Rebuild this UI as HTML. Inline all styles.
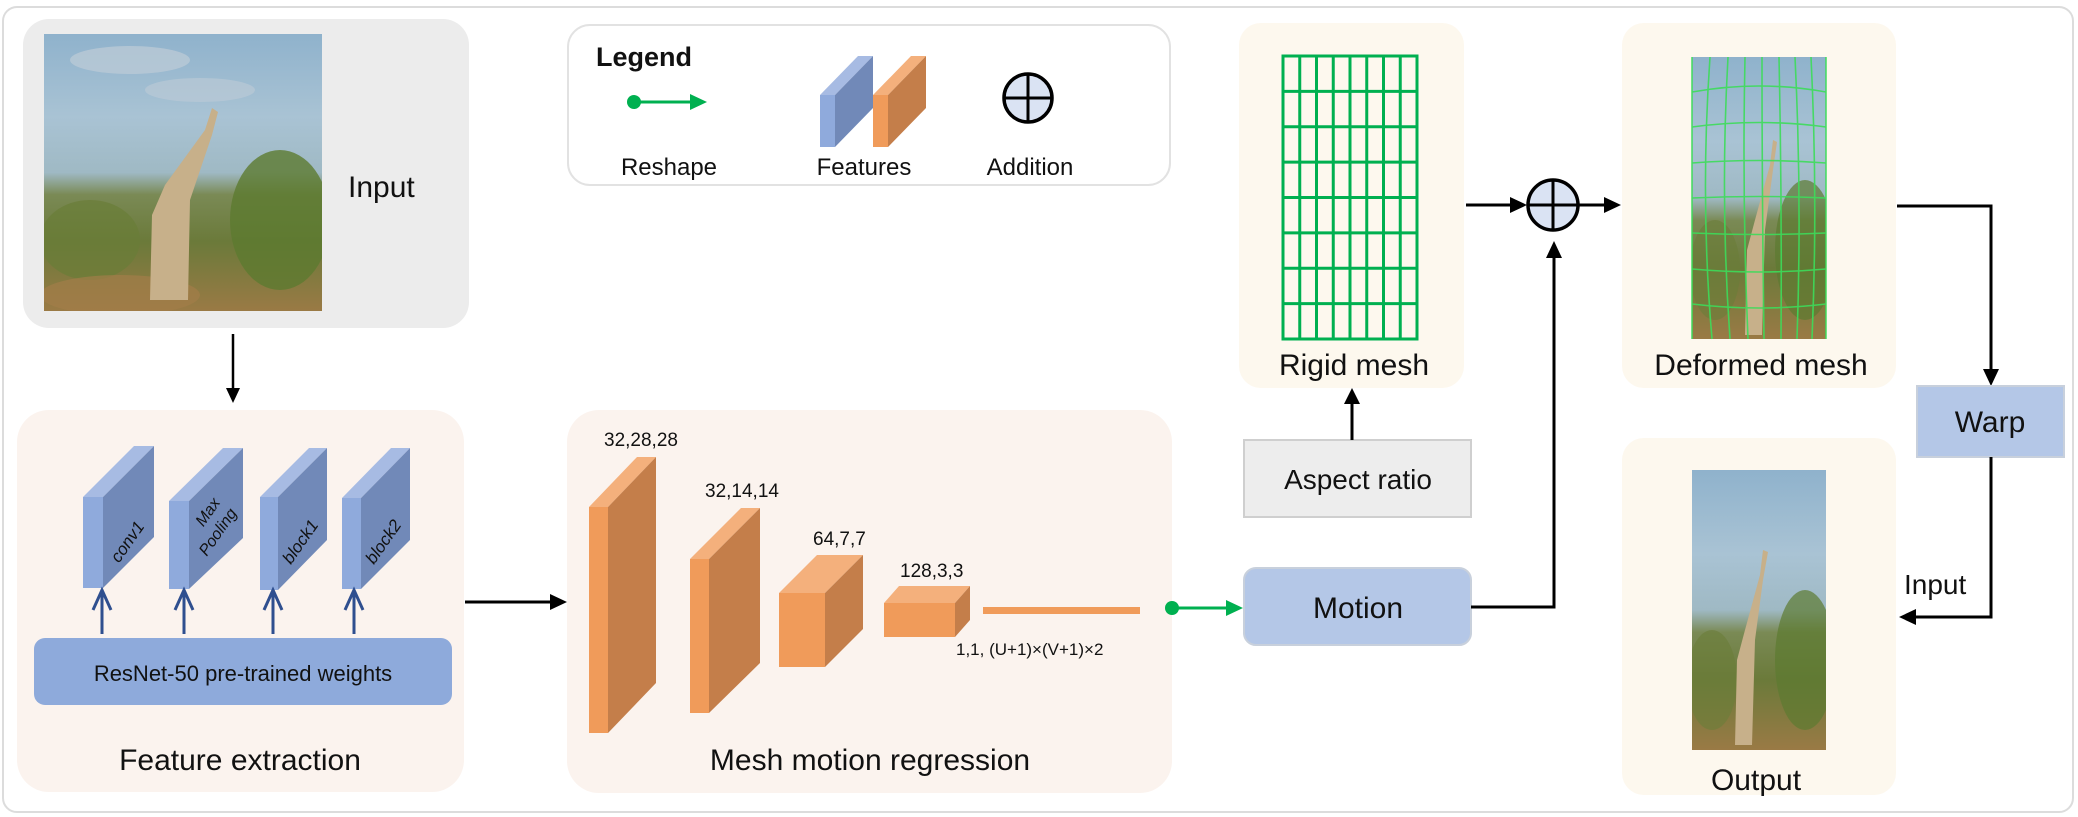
<!DOCTYPE html>
<html><head><meta charset="utf-8"><style>
html,body{margin:0;padding:0;background:#fff}
svg{display:block}
text{font-family:"Liberation Sans",sans-serif;fill:#111}
</style></head><body>
<svg width="2078" height="817" viewBox="0 0 2078 817" xmlns="http://www.w3.org/2000/svg">
<defs>
<linearGradient id="photo" x1="0" y1="0" x2="0" y2="1">
<stop offset="0" stop-color="#8fb2cc"/><stop offset="0.3" stop-color="#a9c3d4"/><stop offset="0.5" stop-color="#9fb9c4"/>
<stop offset="0.58" stop-color="#7a8a55"/><stop offset="0.75" stop-color="#6b7a3a"/><stop offset="1" stop-color="#9a7a45"/>
</linearGradient>
<clipPath id="c1"><rect x="44" y="34" width="278" height="277"/></clipPath>
<clipPath id="c2"><rect x="1692" y="57" width="134" height="282"/></clipPath>
<clipPath id="c3"><rect x="1692" y="470" width="134" height="280"/></clipPath>
</defs>
<rect x="3" y="7" width="2070" height="805" rx="14" fill="#fff" stroke="#dcdcdc" stroke-width="2"/>

<!-- Input box -->
<rect x="23" y="19" width="446" height="309" rx="26" fill="#ececec"/>
<g clip-path="url(#c1)">
<rect x="44" y="34" width="278" height="277" fill="url(#photo)"/>
<ellipse cx="130" cy="60" rx="60" ry="14" fill="#b9c9d6" opacity="0.8"/>
<ellipse cx="200" cy="90" rx="55" ry="12" fill="#b9c9d6" opacity="0.7"/>
<ellipse cx="280" cy="220" rx="50" ry="70" fill="#5d7a30" opacity="0.8"/>
<ellipse cx="90" cy="240" rx="50" ry="40" fill="#6a7d38" opacity="0.7"/>
<ellipse cx="120" cy="295" rx="80" ry="20" fill="#a27d48" opacity="0.7"/>
<path d="M150,300 L152,215 L165,185 L205,130 L212,108 L218,112 L212,135 L190,200 L188,300 Z" fill="#c7b08a"/>
</g>
<text x="348" y="197" font-size="30">Input</text>
<line x1="233" y1="334" x2="233" y2="390" stroke="#000" stroke-width="2.5"/>
<path d="M226,388 L240,388 L233,403 Z" fill="#000"/>

<!-- Legend -->
<rect x="568" y="25" width="602" height="160" rx="22" fill="#fff" stroke="#e2e2e2" stroke-width="2"/>
<text x="596" y="66" font-size="27" font-weight="bold">Legend</text>
<circle cx="634" cy="102" r="7" fill="#00b050"/>
<line x1="634" y1="102" x2="692" y2="102" stroke="#00b050" stroke-width="3"/>
<path d="M690,94 L707,102 L690,110 Z" fill="#00b050"/>
<text x="669" y="175" font-size="24" text-anchor="middle">Reshape</text>
<polygon points="820,95 835,95 873,56 858,56" fill="#a7bbe3"/>
<polygon points="835,95 873,56 873,108 835,147" fill="#7189b8"/>
<rect x="820" y="95" width="15" height="52" fill="#8faadc"/>
<polygon points="873,95 888,95 926,56 911,56" fill="#f4b07c"/>
<polygon points="888,95 926,56 926,108 888,147" fill="#c47e4a"/>
<rect x="873" y="95" width="15" height="52" fill="#f09b5a"/>
<text x="864" y="175" font-size="24" text-anchor="middle">Features</text>
<circle cx="1028" cy="98" r="24" fill="#dae3f3" stroke="#000" stroke-width="3.5"/>
<line x1="1004" y1="98" x2="1052" y2="98" stroke="#000" stroke-width="3"/>
<line x1="1028" y1="74" x2="1028" y2="122" stroke="#000" stroke-width="3"/>
<text x="1030" y="175" font-size="24" text-anchor="middle">Addition</text>

<!-- Feature extraction -->
<rect x="17" y="410" width="447" height="382" rx="32" fill="#fbf3ee"/>
<g>
<polygon points="83,497 103,497 154,446 134,446" fill="#a7bbe3"/>
<polygon points="103,497 154,446 154,537 103,588" fill="#7189b8"/>
<rect x="83" y="497" width="20" height="91" fill="#8faadc"/>
<text transform="translate(132,545) rotate(-55)" font-size="17" font-style="italic" fill="#222" text-anchor="middle">conv1</text>
<polygon points="169,501 189,501 243,448 223,448" fill="#a7bbe3"/>
<polygon points="189,501 243,448 243,538 189,589" fill="#7189b8"/>
<rect x="169" y="501" width="20" height="88" fill="#8faadc"/>
<text transform="translate(212,515) rotate(-55)" font-size="16" font-style="italic" fill="#222" text-anchor="middle">Max</text>
<text transform="translate(222,535) rotate(-55)" font-size="16" font-style="italic" fill="#222" text-anchor="middle">Pooling</text>
<polygon points="260,497 278,497 327,448 309,448" fill="#a7bbe3"/>
<polygon points="278,497 327,448 327,540 278,590" fill="#7189b8"/>
<rect x="260" y="497" width="18" height="93" fill="#8faadc"/>
<text transform="translate(305,545) rotate(-55)" font-size="17" font-style="italic" fill="#222" text-anchor="middle">block1</text>
<polygon points="342,498 361,498 410,448 391,448" fill="#a7bbe3"/>
<polygon points="361,498 410,448 410,540 361,589" fill="#7189b8"/>
<rect x="342" y="498" width="19" height="91" fill="#8faadc"/>
<text transform="translate(388,545) rotate(-55)" font-size="17" font-style="italic" fill="#222" text-anchor="middle">block2</text>
</g>
<g stroke="#2f4f8f" stroke-width="3" fill="none">
<path d="M102,634 V592 M93,610 L102,590 L111,610"/>
<path d="M184,634 V592 M175,610 L184,590 L193,610"/>
<path d="M273,634 V592 M264,610 L273,590 L282,610"/>
<path d="M354,634 V592 M345,610 L354,590 L363,610"/>
</g>
<rect x="34" y="638" width="418" height="67" rx="11" fill="#8eaadb"/>
<text x="243" y="681" font-size="22" text-anchor="middle">ResNet-50 pre-trained weights</text>
<text x="240" y="770" font-size="30" text-anchor="middle">Feature extraction</text>

<line x1="465" y1="602" x2="552" y2="602" stroke="#000" stroke-width="3"/>
<path d="M550,594 L567,602 L550,610 Z" fill="#000"/>

<!-- Mesh motion regression -->
<rect x="567" y="410" width="605" height="383" rx="32" fill="#fbf3ee"/>
<polygon points="589,507 608,507 656,457 637,457" fill="#f4b07c"/>
<polygon points="608,507 656,457 656,683 608,733" fill="#c47e4a"/>
<rect x="589" y="507" width="19" height="226" fill="#f09b5a"/>
<text x="604" y="446" font-size="19">32,28,28</text>
<polygon points="690,559 709,559 760,508 741,508" fill="#f4b07c"/>
<polygon points="709,559 760,508 760,663 709,713" fill="#c47e4a"/>
<rect x="690" y="559" width="19" height="154" fill="#f09b5a"/>
<text x="705" y="497" font-size="19">32,14,14</text>
<polygon points="779,593 825,593 863,555 817,555" fill="#f4b07c"/>
<polygon points="825,593 863,555 863,629 825,667" fill="#c47e4a"/>
<rect x="779" y="593" width="46" height="74" fill="#f09b5a"/>
<text x="813" y="545" font-size="19">64,7,7</text>
<polygon points="884,603 955,603 970,586 899,586" fill="#f4b07c"/>
<polygon points="955,603 970,586 970,620 955,637" fill="#c47e4a"/>
<rect x="884" y="603" width="71" height="34" fill="#f09b5a"/>
<text x="900" y="577" font-size="19">128,3,3</text>
<rect x="983" y="607" width="157" height="7" fill="#f09b5a"/>
<text x="956" y="655" font-size="17">1,1, (U+1)×(V+1)×2</text>
<text x="870" y="770" font-size="30" text-anchor="middle">Mesh motion regression</text>

<circle cx="1172" cy="608" r="7" fill="#00b050"/>
<line x1="1172" y1="608" x2="1228" y2="608" stroke="#00b050" stroke-width="3"/>
<path d="M1226,600 L1243,608 L1226,616 Z" fill="#00b050"/>

<!-- Rigid mesh -->
<rect x="1239" y="23" width="225" height="365" rx="22" fill="#fdf8ee"/>
<g stroke="#00b050" stroke-width="3" fill="none">
<rect x="1283" y="56" width="134" height="283"/>
<path d="M1299.75,56V339 M1316.5,56V339 M1333.25,56V339 M1350,56V339 M1366.75,56V339 M1383.5,56V339 M1400.25,56V339"/>
<path d="M1283,91.4H1417 M1283,126.75H1417 M1283,162.1H1417 M1283,197.5H1417 M1283,232.9H1417 M1283,268.25H1417 M1283,303.6H1417"/>
</g>
<text x="1354" y="375" font-size="30" text-anchor="middle">Rigid mesh</text>

<rect x="1244" y="440" width="227" height="77" fill="#ededed" stroke="#cfcfcf" stroke-width="2"/>
<text x="1358" y="489" font-size="28" text-anchor="middle">Aspect ratio</text>
<line x1="1352" y1="440" x2="1352" y2="402" stroke="#000" stroke-width="3"/>
<path d="M1344,404 L1352,388 L1360,404 Z" fill="#000"/>

<rect x="1244" y="568" width="227" height="77" rx="12" fill="#b4c7e7" stroke="#c8d0dc" stroke-width="2"/>
<text x="1358" y="618" font-size="30" text-anchor="middle">Motion</text>
<path d="M1471,607 H1554 V256" stroke="#000" stroke-width="3" fill="none"/>
<path d="M1546,258 L1554,241 L1562,258 Z" fill="#000"/>

<line x1="1466" y1="205" x2="1512" y2="205" stroke="#000" stroke-width="3"/>
<path d="M1510,197 L1527,205 L1510,213 Z" fill="#000"/>
<circle cx="1553" cy="205" r="25" fill="#dae3f3" stroke="#000" stroke-width="3.5"/>
<line x1="1528" y1="205" x2="1578" y2="205" stroke="#000" stroke-width="3"/>
<line x1="1553" y1="180" x2="1553" y2="230" stroke="#000" stroke-width="3"/>
<line x1="1578" y1="205" x2="1606" y2="205" stroke="#000" stroke-width="3"/>
<path d="M1604,197 L1621,205 L1604,213 Z" fill="#000"/>

<!-- Deformed mesh -->
<rect x="1622" y="23" width="274" height="365" rx="22" fill="#fdf8ee"/>
<g clip-path="url(#c2)">
<rect x="1692" y="57" width="134" height="282" fill="url(#photo)"/>
<ellipse cx="1805" cy="250" rx="30" ry="70" fill="#5d7a30" opacity="0.7"/>
<ellipse cx="1715" cy="270" rx="25" ry="50" fill="#6a7d38" opacity="0.6"/>
<path d="M1745,335 L1747,250 L1755,220 L1770,165 L1773,140 L1777,142 L1773,170 L1765,230 L1762,335 Z" fill="#c7b08a"/>
</g>
<g stroke="#3ddc5a" stroke-width="1.6" fill="none" opacity="0.9">
<path d="M1692,57 V339 M1826,57 V339"/>
<path d="M1710,57 Q1700,200 1712,339 M1728,57 Q1720,200 1730,339 M1745,57 Q1742,200 1748,339 M1762,57 Q1762,200 1764,339 M1779,57 Q1782,200 1781,339 M1795,57 Q1802,200 1797,339 M1811,57 Q1818,200 1812,339"/>
<path d="M1692,92 Q1759,80 1826,92 M1692,127 Q1759,118 1826,127 M1692,163 Q1759,158 1826,163 M1692,198 Q1759,195 1826,198 M1692,233 Q1759,236 1826,233 M1692,269 Q1759,275 1826,269 M1692,304 Q1759,312 1826,304"/>
</g>
<text x="1761" y="375" font-size="30" text-anchor="middle">Deformed mesh</text>

<path d="M1897,206 H1991 V370" stroke="#000" stroke-width="3" fill="none"/>
<path d="M1983,369 L1991,386 L1999,369 Z" fill="#000"/>
<rect x="1917" y="386" width="147" height="71" fill="#b4c7e7" stroke="#c8d0dc" stroke-width="2"/>
<text x="1990" y="432" font-size="30" text-anchor="middle">Warp</text>
<path d="M1991,457 V617 H1914" stroke="#000" stroke-width="3" fill="none"/>
<path d="M1916,609 L1899,617 L1916,625 Z" fill="#000"/>
<text x="1904" y="594" font-size="28">Input</text>

<!-- Output -->
<rect x="1622" y="438" width="274" height="357" rx="22" fill="#fdf8ee"/>
<g clip-path="url(#c3)">
<rect x="1692" y="470" width="134" height="280" fill="url(#photo)"/>
<ellipse cx="1805" cy="660" rx="30" ry="70" fill="#5d7a30" opacity="0.7"/>
<ellipse cx="1712" cy="680" rx="25" ry="50" fill="#6a7d38" opacity="0.6"/>
<path d="M1735,745 L1737,660 L1745,630 L1760,575 L1763,550 L1768,552 L1763,580 L1755,640 L1752,745 Z" fill="#c7b08a"/>
</g>
<text x="1756" y="790" font-size="30" text-anchor="middle">Output</text>
</svg>
</body></html>
